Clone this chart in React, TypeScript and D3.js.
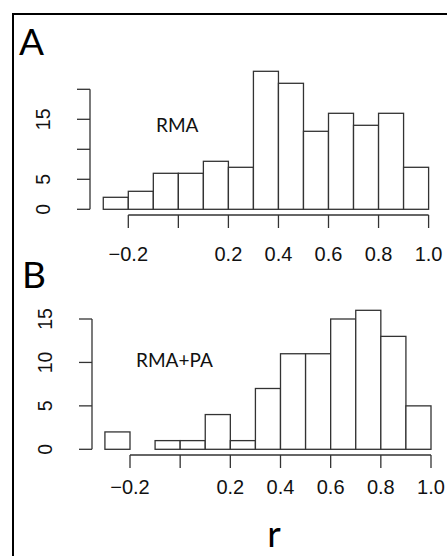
import React from 'react'
import * as d3 from 'd3'

const W = 447
const H = 556

// histogram bins (left edges, step 0.1) and counts
const binStarts = [-0.3, -0.2, -0.1, 0.0, 0.1, 0.2, 0.3, 0.4, 0.5, 0.6, 0.7, 0.8, 0.9]
const BIN_W = 0.1
const countsRMA = [2, 3, 6, 6, 8, 7, 23, 21, 13, 16, 14, 16, 7]
const countsRMAPA = [2, 0, 1, 1, 4, 1, 7, 11, 11, 15, 16, 13, 5]

const xTicks = [-0.2, 0.0, 0.2, 0.4, 0.6, 0.8, 1.0]
// R drops the labels that would overlap
const xLabelsShown = ['-0.2', '', '0.2', '0.4', '0.6', '0.8', '1.0']
const yTicksA = [0, 5, 10, 15, 20]
const yLabelsA = ['0', '5', '', '15', '']
const yTicksB = [0, 5, 10, 15]
const yLabelsB = ['0', '5', '10', '15']

const INK = '#333'
const TICK_FONT = '"Liberation Sans", Arial, sans-serif'
const LABEL_FONT = 'Lato, "Open Sans", sans-serif'

function Histogram(props) {
  const { counts, xRange, yRange, yMax, axisX, axisY, yTicks, yLabels, labelY, yLabelX } = props
  const x = d3.scaleLinear().domain([-0.2, 1.0]).range(xRange)
  const y = d3.scaleLinear().domain([0, yMax]).range(yRange)
  const tick = 13

  return (<g>
    {binStarts.map((b, i) => (
      <rect key={i}
        x={x(b)} y={y(counts[i])}
        width={x(b + BIN_W) - x(b)}
        height={y(0) - y(counts[i])}
        fill="white" stroke={INK} strokeWidth={1.3} />
    ))}

    {/* y axis */}
    <line x1={axisX} x2={axisX} y1={y(0)} y2={y(yTicks[yTicks.length - 1])} stroke={INK} strokeWidth={1.3} />
    {yTicks.map((t, i) => (
      <g key={'y' + i}>
        <line x1={axisX - tick} x2={axisX} y1={y(t)} y2={y(t)} stroke={INK} strokeWidth={1.3} />
        {yLabels[i] && <text
          transform={`translate(${yLabelX},${y(t)}) rotate(-90)`}
          textAnchor="middle" dy="0.36em"
          fontFamily={TICK_FONT} fontSize={19.5} fill="#111">{yLabels[i]}</text>}
      </g>
    ))}

    {/* x axis */}
    <line x1={x(-0.2)} x2={x(1.0)} y1={axisY} y2={axisY} stroke={INK} strokeWidth={1.3} />
    {xTicks.map((t, i) => (
      <g key={'x' + i}>
        <line x1={x(t)} x2={x(t)} y1={axisY} y2={axisY + tick} stroke={INK} strokeWidth={1.3} />
        {xLabelsShown[i] && <text x={x(t)} y={labelY} textAnchor="middle"
          fontFamily={TICK_FONT} fontSize={20} fill="#111">
          {xLabelsShown[i].replace('-', '\u2212')}
        </text>}
      </g>
    ))}
  </g>)
}

export default function App() {
  return (
    <svg width={W} height={H} style={{ position: 'absolute', left: 0, top: 0, background: 'white' }}>
      <rect x={13} y={14} width={W + 20} height={H + 20} fill="white" stroke="black" strokeWidth={2} />

      <text x={19} y={55} fontFamily={LABEL_FONT} fontSize={37} fill="black">A</text>
      <Histogram counts={countsRMA} xRange={[128.3, 428.6]} yRange={[209.3, 89.3]} yMax={20}
        axisX={90} axisY={215} yTicks={yTicksA} yLabels={yLabelsA} labelY={261} yLabelX={43} />
      <text x={156} y={132} fontFamily={LABEL_FONT} fontSize={19} fill="#111">RMA</text>

      <text x={22} y={288} fontFamily={LABEL_FONT} fontSize={37} fill="black">B</text>
      <Histogram counts={countsRMAPA} xRange={[130, 431]} yRange={[449.3, 319]} yMax={15}
        axisX={92} axisY={455} yTicks={yTicksB} yLabels={yLabelsB} labelY={493.5} yLabelX={45} />
      <text x={136} y={367} fontFamily={LABEL_FONT} fontSize={19} fill="#111">RMA+PA</text>

      <text x={274} y={547} textAnchor="middle" fontFamily={LABEL_FONT} fontSize={37} fill="black">r</text>
    </svg>
  )
}
